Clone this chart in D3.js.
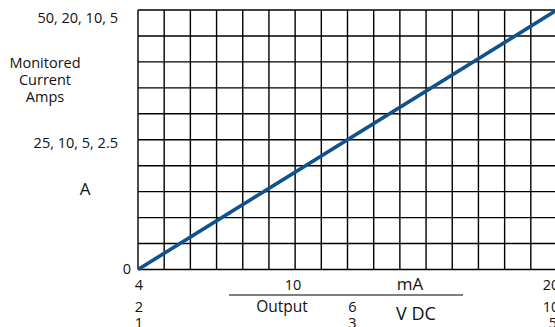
<!DOCTYPE html>
<html>
<head>
<meta charset="utf-8">
<script src="https://cdn.jsdelivr.net/npm/d3@7"></script>
<style>
  body { margin: 0; background: #fff; }
  svg { display: block; }
  text { font-family: "Open Sans", "Noto Sans", sans-serif; fill: #111; }
</style>
</head>
<body>
<div id="chart"></div>
<script>
// Output range (mA) and the matching voltage scales
const mAticks = [4, 10, 20];
const vdcHigh = [2, 6, 10];
const vdcLow = [1, 3, 5];

// Monitored current, in grid units (0..50)
const rangeLabels = ['0', '25, 10, 5, 2.5', '50, 20, 10, 5'];
const rangeValues = [0, 25, 50];

// The transfer line
const lineData = [
    { mA: 4, amps: 0 },
    { mA: 20, amps: 50 }
];

const width = 555, height = 327;
const gridLeft = 138, gridTop = 10, gridW = 419, gridH = 259.5;

const svg = d3.select('#chart')
    .append('svg')
    .attr('width', width)
    .attr('height', height);

const x = d3.scaleLinear().domain([4, 20]).range([gridLeft, gridLeft + gridW]);
const xV = d3.scaleLinear().domain([2, 10]).range([gridLeft, gridLeft + gridW]);
const y = d3.scaleLinear().domain([0, 50]).range([gridTop + gridH, gridTop]);

// Grid
const grid = svg.append('g')
    .attr('stroke', '#000')
    .attr('stroke-width', 1.4);

grid.selectAll('line.v')
    .data(d3.range(4, 21, 1))
    .enter()
    .append('line')
    .attr('x1', d => x(d)).attr('x2', d => x(d))
    .attr('y1', y(0)).attr('y2', y(50));

grid.selectAll('line.h')
    .data(d3.range(0, 51, 5))
    .enter()
    .append('line')
    .attr('x1', x(4)).attr('x2', x(20))
    .attr('y1', d => y(d)).attr('y2', d => y(d));

// Transfer line
svg.append('path')
    .datum(lineData)
    .attr('fill', 'none')
    .attr('stroke', '#0f528c')
    .attr('stroke-width', 3.6)
    .attr('d', d3.line().x(d => x(d.mA)).y(d => y(d.amps)));

// Y labels
svg.selectAll('text.ylab')
    .data(rangeValues)
    .enter()
    .append('text')
    .attr('x', (d, i) => i === 0 ? 131 : 118)
    .attr('y', d => y(d) + (d === 0 ? 4 : d === 50 ? 13 : 8))
    .attr('text-anchor', 'end')
    .attr('font-size', 14.5)
    .text((d, i) => rangeLabels[i]);

svg.append('text')
    .attr('text-anchor', 'middle')
    .attr('font-size', 14.5)
    .selectAll('tspan')
    .data(['Monitored', 'Current', 'Amps'])
    .enter()
    .append('tspan')
    .attr('x', 45)
    .attr('y', (d, i) => 68 + i * 17)
    .text(d => d);

svg.append('text')
    .attr('x', 85).attr('y', 195)
    .attr('text-anchor', 'middle')
    .attr('font-size', 17)
    .text('A');

// X labels: mA row, then the two VDC rows
svg.selectAll('text.ma')
    .data(mAticks)
    .enter()
    .append('text')
    .attr('x', d => x(d) + (d === 20 ? -6 : d === 10 ? -2 : 1))
    .attr('y', 290)
    .attr('text-anchor', 'middle')
    .attr('font-size', 14.5)
    .text(d => d);

svg.selectAll('text.vh')
    .data(vdcHigh)
    .enter()
    .append('text')
    .attr('x', d => xV(d) + (d === 10 ? -6 : d === 6 ? 5 : 1))
    .attr('y', 312)
    .attr('text-anchor', 'middle')
    .attr('font-size', 14.5)
    .text(d => d);

svg.selectAll('text.vl')
    .data(vdcLow)
    .enter()
    .append('text')
    .attr('x', (d, i) => xV(vdcHigh[i]) + (i === 2 ? -4 : i === 1 ? 5 : 1))
    .attr('y', 328)
    .attr('text-anchor', 'middle')
    .attr('font-size', 14.5)
    .text(d => d);

svg.append('text')
    .attr('x', 410).attr('y', 290)
    .attr('text-anchor', 'middle')
    .attr('font-size', 17)
    .text('mA');

svg.append('line')
    .attr('x1', 229).attr('x2', 463)
    .attr('y1', 295).attr('y2', 295)
    .attr('stroke', '#000')
    .attr('stroke-width', 1.2);

svg.append('text')
    .attr('x', 282).attr('y', 312)
    .attr('text-anchor', 'middle')
    .attr('font-size', 15.5)
    .text('Output');

svg.append('text')
    .attr('x', 416).attr('y', 320)
    .attr('text-anchor', 'middle')
    .attr('font-size', 18)
    .text('V DC');
</script>
</body>
</html>
